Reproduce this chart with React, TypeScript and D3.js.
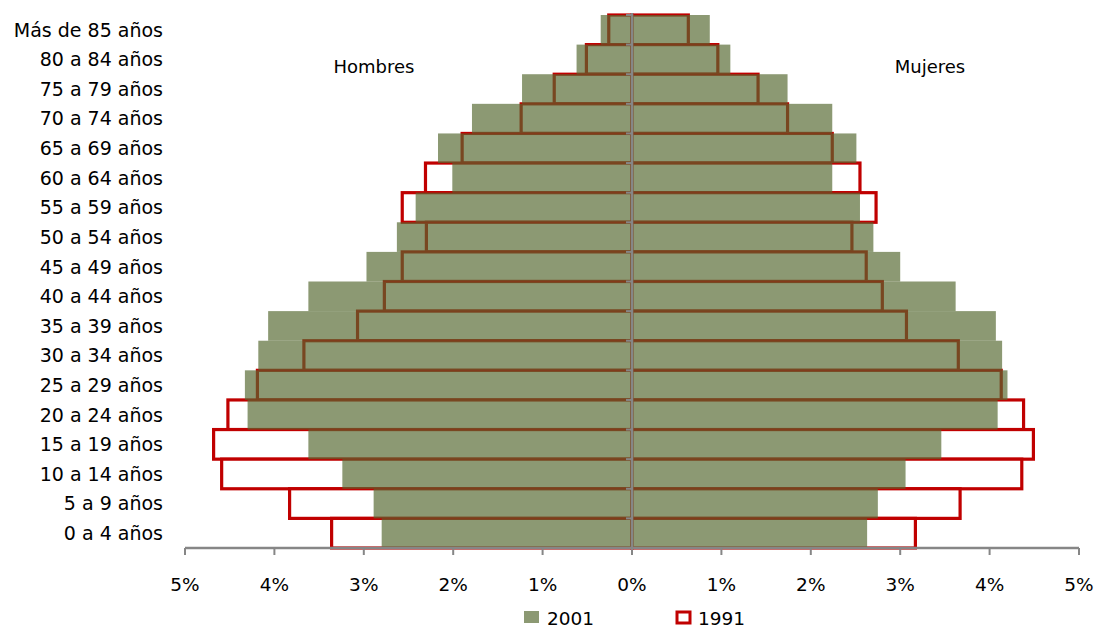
import React from "react";
import * as d3 from "d3";

const categories = [
  "Más de 85 años", "80 a 84 años", "75 a 79 años", "70 a 74 años", "65 a 69 años",
  "60 a 64 años", "55 a 59 años", "50 a 54 años", "45 a 49 años", "40 a 44 años",
  "35 a 39 años", "30 a 34 años", "25 a 29 años", "20 a 24 años", "15 a 19 años",
  "10 a 14 años", "5 a 9 años", "0 a 4 años",
];
const men2001 = [0.35, 0.62, 1.23, 1.79, 2.17, 2.01, 2.42, 2.63, 2.97, 3.62, 4.07, 4.18, 4.33, 4.30, 3.62, 3.24, 2.89, 2.80];
const men1991 = [0.26, 0.51, 0.87, 1.24, 1.90, 2.31, 2.57, 2.30, 2.57, 2.77, 3.07, 3.67, 4.19, 4.52, 4.68, 4.59, 3.83, 3.36];
const women2001 = [0.87, 1.10, 1.74, 2.24, 2.51, 2.24, 2.55, 2.70, 3.00, 3.62, 4.07, 4.14, 4.20, 4.09, 3.46, 3.06, 2.75, 2.63];
const women1991 = [0.63, 0.96, 1.41, 1.74, 2.24, 2.55, 2.73, 2.46, 2.62, 2.80, 3.07, 3.65, 4.13, 4.38, 4.49, 4.36, 3.67, 3.17];
const tickValues = [-5, -4, -3, -2, -1, 0, 1, 2, 3, 4, 5];
const sideLabels = ["Hombres", "Mujeres"];
const legendLabels = ["2001", "1991"];

const W = 1104;
const H = 629;
const FONT = "'DejaVu Sans', Verdana, sans-serif";
const GREEN = "#566830";
const GREEN_OP = 0.68;
const RED = "#C00000";
const GRAY = "#868686";

export default function App() {
  const x = d3.scaleLinear().domain([-5, 5]).range([185, 1079]);
  const y = d3.scaleBand<string>().domain(categories).range([15, 548]).padding(0);
  const bw = y.bandwidth();
  const x0 = x(0);

  const rect1991 = (v: number, sign: number, i: number) => {
    const xa = x(sign * v);
    return (
      <rect
        key={`r${sign}${i}`}
        x={Math.min(xa, x0)}
        y={y(categories[i])!}
        width={Math.abs(xa - x0)}
        height={bw}
        fill="#fff"
        stroke={RED}
        strokeWidth={3.2}
      />
    );
  };
  const rect2001 = (v: number, sign: number, i: number) => {
    const xa = x(sign * v);
    return (
      <rect
        key={`g${sign}${i}`}
        x={Math.min(xa, x0)}
        y={y(categories[i])!}
        width={Math.abs(xa - x0)}
        height={bw}
        fill={GREEN}
        fillOpacity={GREEN_OP}
      />
    );
  };

  return (
    <svg width={W} height={H} style={{ position: "absolute", left: 0, top: 0 }}>
      <rect width={W} height={H} fill="#fff" />
      {/* 1991 outlines behind */}
      {men1991.map((v, i) => rect1991(v, -1, i))}
      {women1991.map((v, i) => rect1991(v, 1, i))}
      {/* 2001 semi-transparent fill on top */}
      {men2001.map((v, i) => rect2001(v, -1, i))}
      {women2001.map((v, i) => rect2001(v, 1, i))}

      {/* central vertical axis */}
      <line x1={x0} x2={x0} y1={13} y2={548} stroke={GRAY} strokeWidth={2.5} />
      {categories.map((c, i) => (
        <line key={`ct${i}`} x1={x0 - 6} x2={x0} y1={y(c)!} y2={y(c)!} stroke={GRAY} strokeWidth={2} />
      ))}
      <line x1={x0 - 6} x2={x0} y1={548} y2={548} stroke={GRAY} strokeWidth={2} />

      {/* bottom axis */}
      <line x1={x(-5)} x2={x(5)} y1={548} y2={548} stroke={GRAY} strokeWidth={2.5} />
      {tickValues.map((t) => (
        <g key={`t${t}`}>
          <line x1={x(t)} x2={x(t)} y1={548} y2={555} stroke={GRAY} strokeWidth={2} />
          <text
            x={x(t)}
            y={591}
            textAnchor="middle"
            fontFamily={FONT}
            fontSize={18.5}
            fill="#000"
          >
            {`${Math.abs(t)}%`}
          </text>
        </g>
      ))}

      {/* category labels */}
      {categories.map((c) => (
        <text
          key={c}
          x={163}
          y={y(c)! + bw / 2}
          dy="0.36em"
          textAnchor="end"
          fontFamily={FONT}
          fontSize={19}
          fill="#000"
        >
          {c}
        </text>
      ))}

      {/* side labels */}
      <text x={374} y={73} textAnchor="middle" fontFamily={FONT} fontSize={18} fill="#000">
        {sideLabels[0]}
      </text>
      <text x={930} y={73} textAnchor="middle" fontFamily={FONT} fontSize={18} fill="#000">
        {sideLabels[1]}
      </text>

      {/* legend */}
      <rect x={524} y={611} width={15} height={12} fill={GREEN} fillOpacity={GREEN_OP} />
      <text x={547} y={624.5} fontFamily={FONT} fontSize={18.5} fill="#000">
        {legendLabels[0]}
      </text>
      <rect x={677} y={612} width={13} height={11} fill="#fff" stroke={RED} strokeWidth={3} />
      <text x={698} y={624.5} fontFamily={FONT} fontSize={18.5} fill="#000">
        {legendLabels[1]}
      </text>
    </svg>
  );
}
